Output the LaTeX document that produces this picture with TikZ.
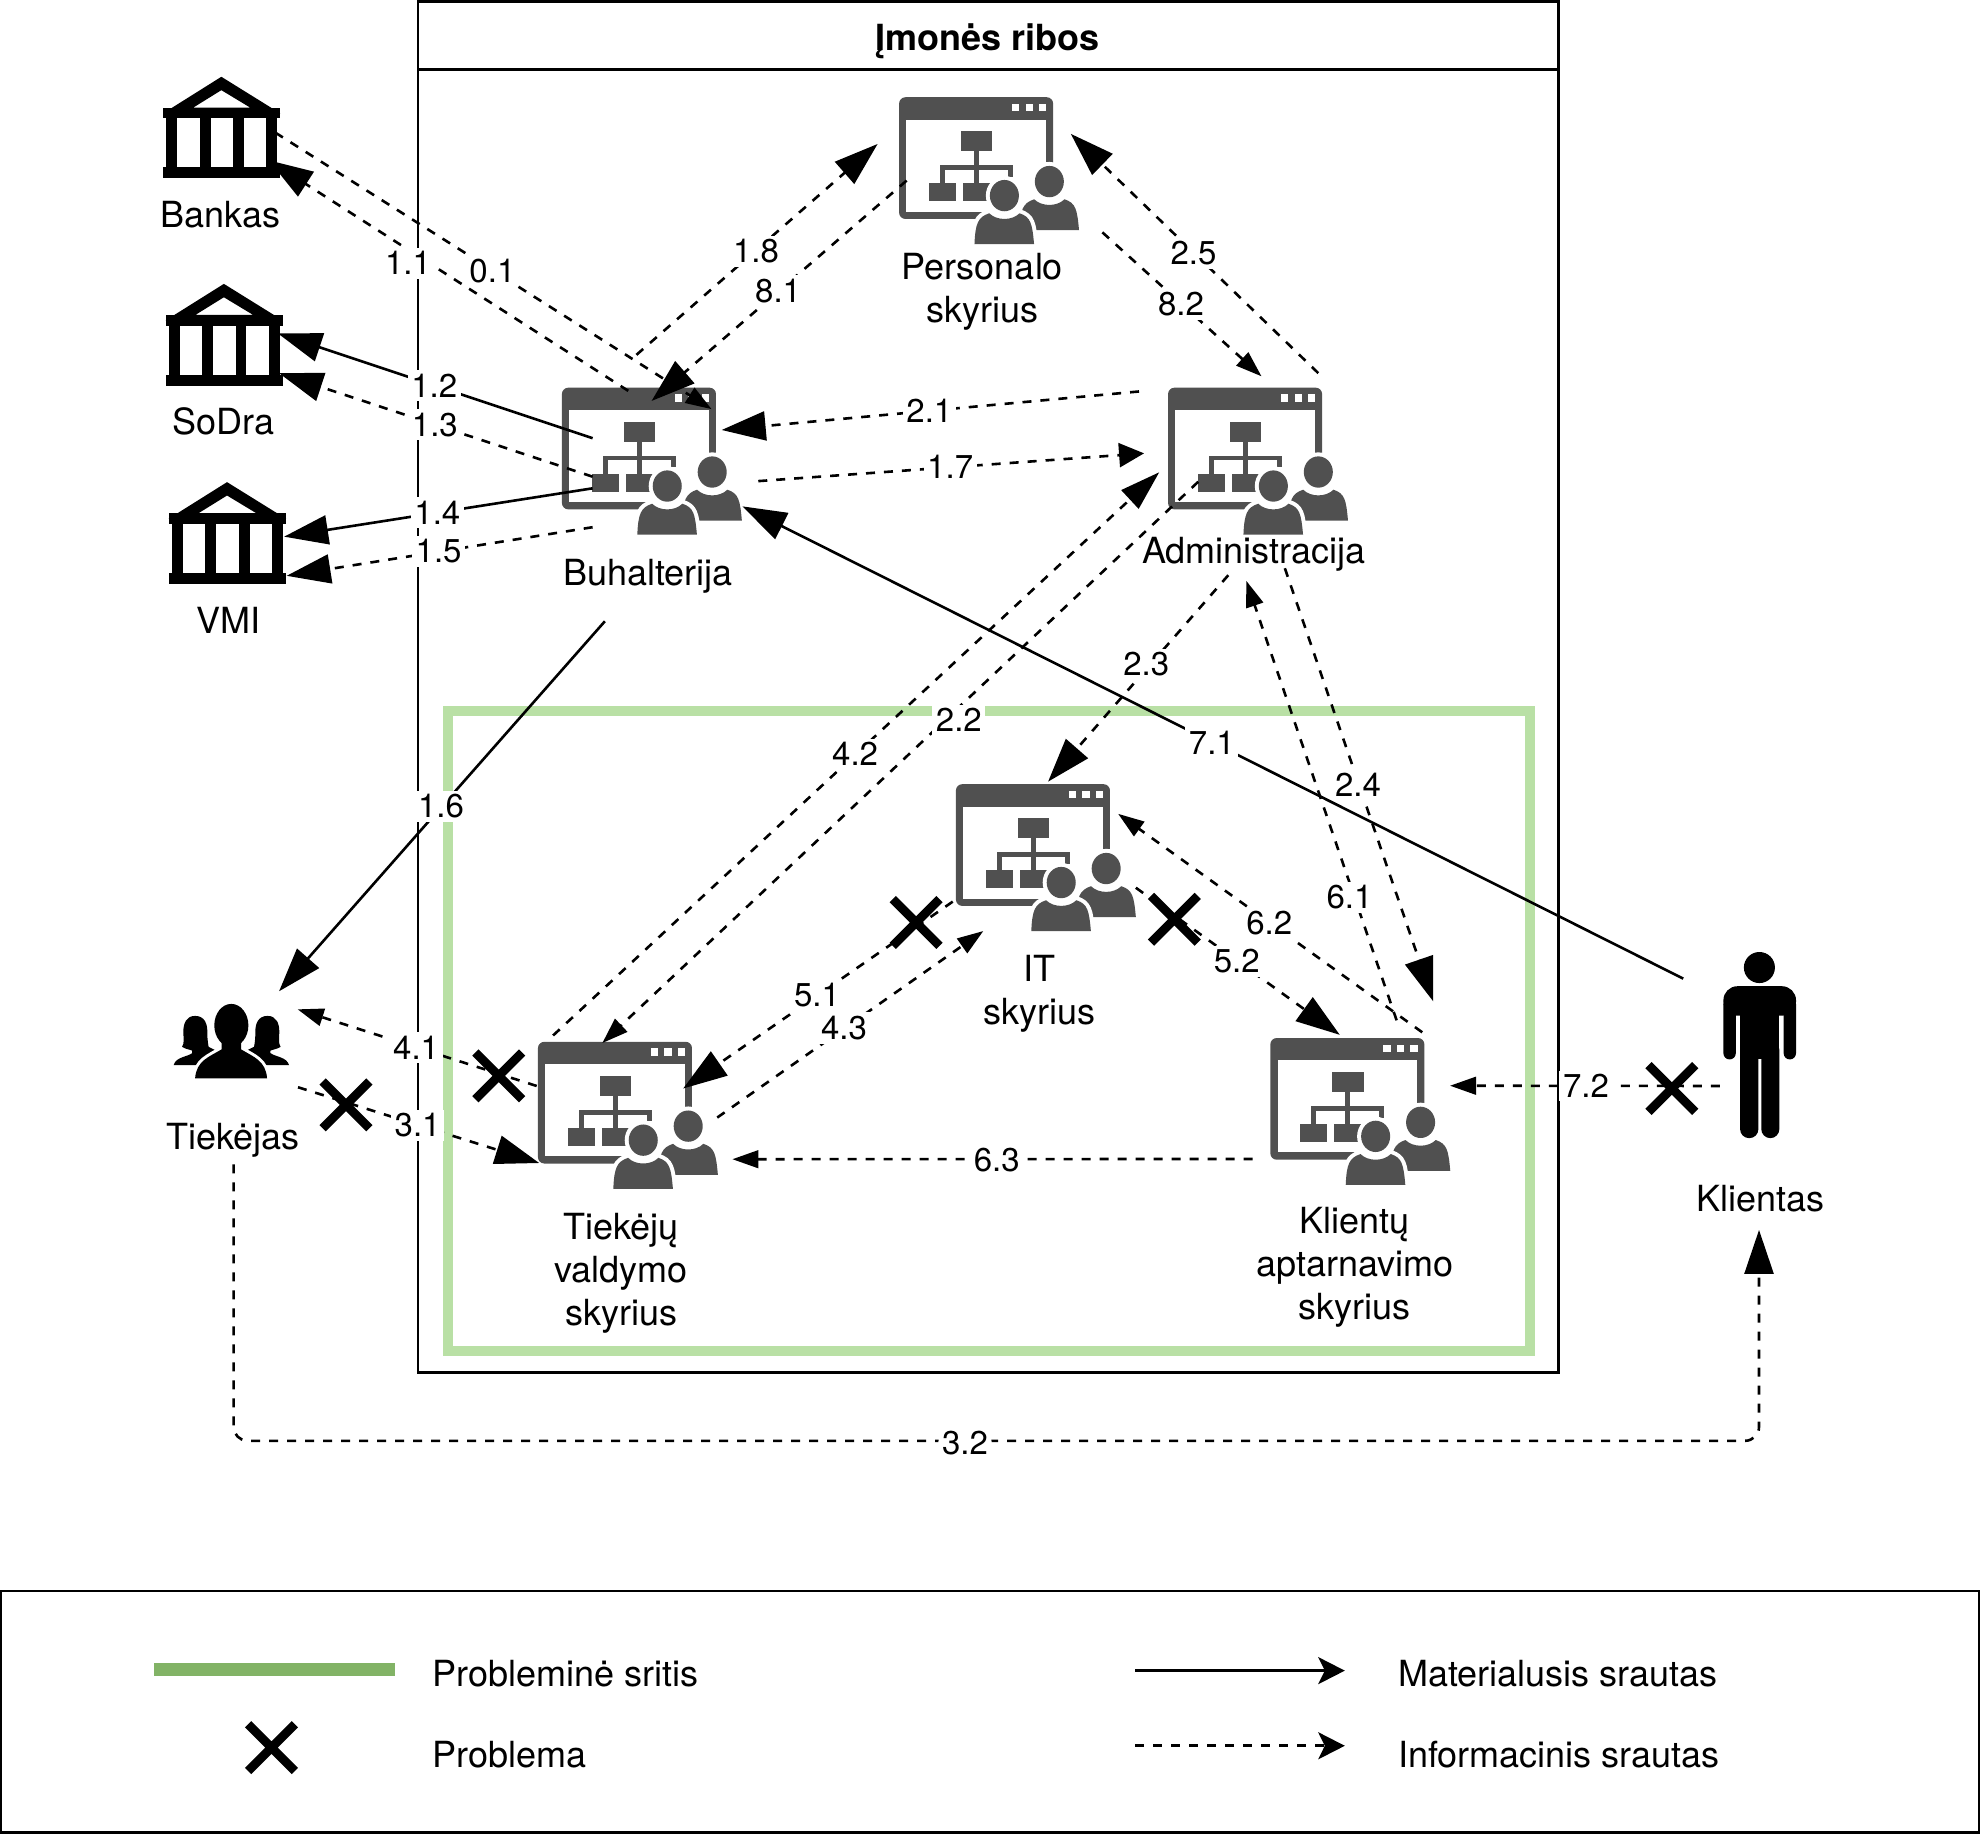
\documentclass[tikz,border=0pt]{standalone}
\usepackage{fontspec}
\setmainfont{TeX Gyre Heros}
\usepackage{xcolor}
\usetikzlibrary{arrows.meta,shapes.misc}
\definecolor{iconfill}{HTML}{505050}
\definecolor{zonelight}{HTML}{B9E0A5}
\definecolor{zonedark}{HTML}{82B366}

\begin{document}
\begin{tikzpicture}[
      x=0.6314pt, y=-0.6314pt,
      frame/.style={draw, line width=1.25pt},
      zone/.style={draw=zonelight, line width=5pt},
      material/.style={draw, line width=1.3pt},
      info/.style={draw, line width=1.3pt, dash pattern=on 4.5pt off 4.5pt},
      headbig/.style={-{Triangle[length=22pt,width=14.5pt]}},
      headmid/.style={-{Triangle[length=20pt,width=12.5pt]}},
      headwide/.style={-{Triangle[length=12.5pt,width=12pt]}},
      headsmall/.style={-{Triangle[length=13pt,width=8.8pt]}},
      headlegend/.style={-{Stealth[length=13.3pt,width=13.5pt,inset=3.3pt]}},
      lbl/.style={font=\fontsize{16.5}{19}\selectfont, fill=white, inner sep=1.8pt, xshift=-0.5pt},
      txt/.style={font=\fontsize{18}{21.5}\selectfont, align=center, inner sep=0pt},
      legtxt/.style={txt, anchor=west},
      prob/.style={cross out, draw, line width=4.4pt, minimum size=23.4pt, inner sep=0pt, outer sep=0pt},
      iconbox/.style={inner sep=0pt, minimum size=0pt},
      orgicon/.pic={
        \begin{scope}[shift={(-71.5,-59.5)}]
          \fill[iconfill, rounded corners=3.2pt] (0,0) rectangle (122,96.4);
          \fill[white] (5.8,17.7) rectangle (116.2,90.6);
          \foreach \dx in {89.5,100.2,110.9}
            \fill[white] (\dx,5.3) rectangle ++(5.8,5.8);
          \fill[iconfill] (48.8,26.9) rectangle (73.9,42.8);
          \fill[iconfill] (59.5,42.8) rectangle (63.1,68);
          \fill[iconfill] (32.5,54) rectangle (90,57.6);
          \fill[iconfill] (32.5,54) rectangle (36.1,68);
          \fill[iconfill] (86.4,54) rectangle (90,63);
          \fill[iconfill] (23.8,68) rectangle (44.9,82.4);
          \fill[iconfill] (50.4,68) rectangle (72,82.4);
          % back person first, front one over it
          \foreach \hx/\hy in {119/66.8,83.4/77.9} {
            \begin{scope}[shift={(\hx,\hy)}]
              \path[draw=white, fill=white, line width=4pt]
                (0,0) ellipse [x radius=11.5, y radius=12.4]
                (-23.7,38.5) .. controls (-23,22) and (-21,17) .. (-12,14)
                .. controls (-6,20) and (6,20) .. (12,14)
                .. controls (21,17) and (22,22) .. (23.5,38.5) -- cycle;
              \fill[iconfill] (0,0) ellipse [x radius=11.5, y radius=12.4];
              \fill[iconfill] (-23.7,38.5) .. controls (-23,22) and (-21,17) .. (-12,14)
                .. controls (-6,20) and (6,20) .. (12,14)
                .. controls (21,17) and (22,22) .. (23.5,38.5) -- cycle;
            \end{scope}
          }
        \end{scope}
      },
      bank/.pic={
        \begin{scope}[shift={(-46.4,-40.2)}]
          \fill[even odd rule] (46.2,0) -- (92.9,29) -- (0,29) -- cycle
            (46.2,10.6) -- (69.2,24.5) -- (23.8,24.5) -- cycle;
          \fill (0,24.5) rectangle (92.9,33);
          \fill (0,71.8) rectangle (92.9,80.5);
          \foreach \cx in {2.6,29,55.4,81.6}
            \fill (\cx,33) rectangle ++(8.7,39);
        \end{scope}
      },
      crowd/.pic={
        \begin{scope}[shift={(0.2,-29.5)}]
          \foreach \side in {1,-1} {
            \fill[xscale=\side] (-28.7,9.5) .. controls (-36,9.5) and (-38,16) .. (-38,22)
              .. controls (-38,27) and (-37,31) .. (-39,34)
              .. controls (-36,36) and (-33,36) .. (-31,37) -- (-31,39)
              .. controls (-35,42) and (-44,42) .. (-45.7,48.5) -- (-12,48.5) -- (-12,37)
              -- (-18,34) .. controls (-19,28) and (-19,26) .. (-19,22)
              .. controls (-19,16) and (-21,9.5) .. (-28.7,9.5) -- cycle;
          }
          \path[draw=white, fill=white, line width=3pt]
            (-28.7,59) .. controls (-27.7,45) and (-17.7,42) .. (-7.7,36) -- (-7.7,24) -- (7.7,24)
            -- (7.7,36) .. controls (17.7,42) and (27.3,45) .. (28.3,59) -- cycle
            (0,17) ellipse [x radius=13.5, y radius=17];
          \fill (0,17) ellipse [x radius=13.5, y radius=17];
          \fill (-28.7,59) .. controls (-27.7,45) and (-17.7,42) .. (-7.7,36) -- (-7.7,24) -- (7.7,24)
            -- (7.7,36) .. controls (17.7,42) and (27.3,45) .. (28.3,59) -- cycle;
        \end{scope}
      },
      man/.pic={
        \begin{scope}[shift={(-28.7,-73.7)}]
          \fill (28.5,11.9) circle [radius=12.3];
          \fill[rounded corners=7pt] (0,50) -- (0,26.7) -- (57.5,26.7) -- (57.5,50) -- cycle;
          \fill[rounded corners=3.1pt] (0,36) rectangle (9.8,84.7);
          \fill[rounded corners=3.1pt] (47.7,36) rectangle (57.5,84.7);
          \fill (9.8,30) rectangle (47.7,43);
          \fill (13.2,43) rectangle (44.3,84);
          \fill[rounded corners=4.5pt] (13.2,70) rectangle (27.7,147);
          \fill[rounded corners=4.5pt] (30,70) rectangle (44.3,147);
        \end{scope}
      },
    ]
    \useasboundingbox (0,0) rectangle (1568,1451.6);

    % --- frames ---------------------------------------------------------------
    \draw[frame] (331,1) rectangle (1234,1087);
    \draw[frame] (331,1) rectangle (1234,55);
    \draw[zone] (355,563) rectangle (1212,1070);
    \node[txt, font=\fontsize{18}{21.5}\selectfont\bfseries] (title) at (782,33) {Įmonės ribos};

    % --- departments -----------------------------------------------------------
    \foreach \nm/\px/\py in {per/783.5/136.5, buh/516.5/366.5, adm/996.5/366.5,
                             it/828.5/680.5, tie/497.5/884.5, kli/1077.5/881.5} {
      \node[iconbox] (\nm) at (\px,\py) {};
      \pic at (\nm) {orgicon};
    }
    \node[iconbox] (teik) at (183,824.5) {};
    \pic at (teik) {crowd};
    \node[iconbox] (klient) at (1393.5,828) {};
    \pic at (klient) {man};
    \foreach \nm/\px/\py in {bank1/175.5/101, bank2/177.5/265, bank3/180/422}
      \node[iconbox] (\nm) at (\px,\py) {};

    % --- flows -----------------------------------------------------------------
    \draw[info, headbig] ([shift={(-19,-57)}]buh.center) -- node[lbl, pos=.61, yshift=-6.5pt] {1.1} ([shift={(37.5,26)}]bank1.center);
    \draw[info, headsmall] ([shift={(42.5,4)}]bank1.center) -- node[lbl] {0.1} ([shift={(47,-42.5)}]buh.center);
    \draw[material, headbig] ([shift={(-47.2,-19.5)}]buh.center) -- node[lbl] {1.2} ([shift={(42.5,-1)}]bank2.center);
    \draw[info, headbig] ([shift={(-47.2,11)}]buh.center) -- node[lbl] {1.3} ([shift={(43.5,30.5)}]bank2.center);
    \draw[material, headbig] ([shift={(-47.2,20.2)}]buh.center) -- node[lbl] {1.4} ([shift={(45,3)}]bank3.center);
    \draw[info, headbig] ([shift={(-47.2,51)}]buh.center) -- node[lbl] {1.5} ([shift={(47,34)}]bank3.center);
    \draw[material, headbig] ([shift={(-37.5,125.5)}]buh.center) -- node[lbl] {1.6} ([shift={(38,-39.5)}]teik.center);
    \draw[info, headwide] ([shift={(84,14.5)}]buh.center) -- node[lbl] {1.7} ([shift={(-90.5,-7.5)}]adm.center);
    \draw[info, headbig] ([shift={(-12.5,-85.5)}]buh.center) -- node[lbl, yshift=-1pt] {1.8} ([shift={(-88.5,-22.5)}]per.center);
    \draw[info, headbig] ([shift={(-65.5,6.5)}]per.center) -- node[lbl] {8.1} ([shift={(-0.5,-49)}]buh.center);
    \draw[info, headbig] ([shift={(-94.5,-56.5)}]adm.center) -- node[lbl] {2.1} ([shift={(55,-26)}]buh.center);
    \draw[info, headsmall] ([shift={(-47.6,15)}]adm.center) -- node[lbl, pos=.40, yshift=-7pt] {2.2} ([shift={(-20.5,-58.5)}]tie.center);
    \draw[info, headbig] ([shift={(-23.8,89)}]adm.center) -- node[lbl, pos=.45, yshift=2pt] {2.3} ([shift={(1.5,-61.5)}]it.center);
    \draw[info, headbig] ([shift={(21,83.5)}]adm.center) -- node[lbl] {2.4} ([shift={(57.5,-88.5)}]kli.center);
    \draw[info, headbig] ([shift={(47.5,-71)}]adm.center) -- node[lbl] {2.5} ([shift={(64.5,-30.5)}]per.center);
    \draw[info, headsmall] ([shift={(89.5,47.5)}]per.center) -- node[lbl] {8.2} ([shift={(2.5,-68.5)}]adm.center);
    \draw[info, headsmall] ([shift={(-72.5,-24.5)}]tie.center) -- node[lbl] {4.1} ([shift={(52.7,-25.2)}]teik.center);
    \draw[info, headbig] ([shift={(53,36.5)}]teik.center) -- node[lbl] {3.1} ([shift={(-70.5,36.5)}]tie.center);
    \draw[info, headmid] ([shift={(-59.5,-64.5)}]tie.center) -- node[lbl] {4.2} ([shift={(-78.5,7.5)}]adm.center);
    \draw[info, headsmall] ([shift={(70.5,0.5)}]tie.center) -- node[lbl, pos=.48] {4.3} ([shift={(-49.8,56.8)}]it.center);
    \draw[info, headbig] ([shift={(-74,33.5)}]it.center) -- node[lbl] {5.1} ([shift={(43.5,-22.5)}]tie.center);
    \draw[info, headbig] ([shift={(71,22.5)}]it.center) -- node[lbl] {5.2} ([shift={(-16.5,-62)}]kli.center);
    \draw[info, headsmall] ([shift={(28.5,-73.5)}]kli.center) -- node[lbl, pos=.28, xshift=-2pt] {6.1} ([shift={(-9.5,93.5)}]adm.center);
    \draw[info, headsmall] ([shift={(48.8,-64)}]kli.center) -- node[lbl] {6.2} ([shift={(57,-36)}]it.center);
    \draw[info, headsmall] ([shift={(-85.5,36.3)}]kli.center) -- node[lbl, pos=.49, yshift=-0.5pt] {6.3} ([shift={(82.5,33.5)}]tie.center);
    \draw[material, headbig] ([shift={(-60.5,-53)}]klient.center) -- node[lbl] {7.1} ([shift={(71.5,34.5)}]buh.center);
    \draw[info, headsmall] ([shift={(-31.5,32)}]klient.center) -- node[lbl, xshift=1pt] {7.2} ([shift={(70.8,-21.7)}]kli.center);
    \coordinate (c32) at (765,1141);
    \draw[info, headbig, rounded corners=7pt] ([shift={(2,97.5)}]teik.center) |- (c32) node[lbl, yshift=-1pt] {3.2} -| ([shift={(-0.5,146)}]klient.center);

    % --- banks go over the arrow heads ------------------------------------------
    \foreach \nm in {bank1,bank2,bank3}
      \pic at (\nm) {bank};

    % --- problems ---------------------------------------------------------------
    \node[prob] (x51) at (725.5,730.5) {};
    \node[prob] (x52) at (930,728) {};
    \node[prob] (x41) at (395,852) {};
    \node[prob] (x31) at (274,875) {};
    \node[prob] (x72) at (1324,862) {};

    % --- names ------------------------------------------------------------------
    \node[txt] (perlbl) at (778,231) {Personalo\\skyrius};
    \node[txt] (buhlbl) at (513,456) {Buhalterija};
    \node[txt] (admlbl) at (993,439) {Administracija};
    \node[txt] (itlbl) at (823,787) {IT\\skyrius};
    \node[txt] (tielbl) at (492,1008.5) {Tiekėjų\\valdymo\\skyrius};
    \node[txt] (klilbl) at (1073,1003.5) {Klientų\\aptarnavimo\\skyrius};
    \node[txt] (b1lbl) at (174.5,170) {Bankas};
    \node[txt] (b2lbl) at (177,334) {SoDra};
    \node[txt] (b3lbl) at (181,491) {VMI};
    \node[txt] (teiklbl) at (184.5,903) {Tiekėjas};
    \node[txt] (klientlbl) at (1394.5,949) {Klientas};

    % --- legend -----------------------------------------------------------------
    \draw[frame] (0.8,1260) rectangle (1567,1451);
    \coordinate (legza) at (122,1322);
    \coordinate (legzb) at (313,1322);
    \draw[draw=zonedark, line width=6.2pt] (legza) -- (legzb);
    \node[prob] (legx) at (215,1384) {};
    \coordinate (legma) at (899,1323);
    \coordinate (legmb) at (1065,1323);
    \draw[material, headlegend] (legma) -- (legmb);
    \coordinate (legia) at (899,1382.5);
    \coordinate (legib) at (1065,1382.5);
    \draw[info, headlegend] (legia) -- (legib);
    \node[legtxt] (legt1) at (342,1325) {Probleminė sritis};
    \node[legtxt] (legt2) at (342,1389.5) {Problema};
    \node[legtxt] (legt3) at (1107,1325) {Materialusis srautas};
    \node[legtxt] (legt4) at (1107,1389.5) {Informacinis srautas};
  \end{tikzpicture}
\end{document}
